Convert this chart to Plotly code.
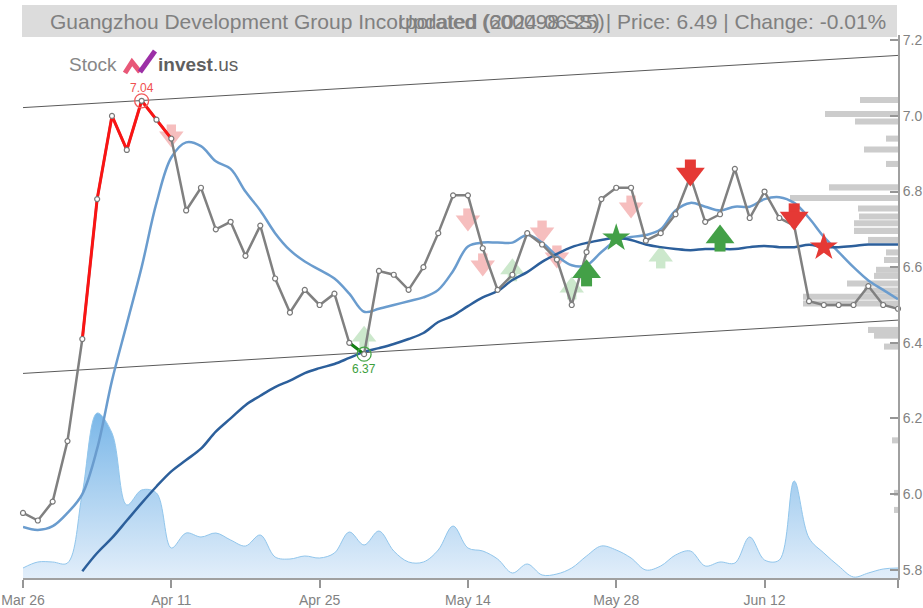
import plotly.graph_objects as go

# ---------------- data ----------------
tick_idx = [0, 10, 20, 30, 40, 50, 59]
tick_labels = ["Mar 26", "Apr 11", "Apr 25", "May 14", "May 28", "Jun 12", ""]

close = [5.95, 5.93, 5.98, 6.14, 6.41, 6.78, 7.00, 6.91, 7.04, 6.99,
         6.94, 6.75, 6.81, 6.70, 6.72, 6.63, 6.71, 6.57, 6.48, 6.54,
         6.50, 6.53, 6.40, 6.37, 6.59, 6.58, 6.54, 6.60, 6.69, 6.79,
         6.79, 6.65, 6.54, 6.58, 6.69, 6.66, 6.62, 6.50, 6.64, 6.78,
         6.81, 6.81, 6.67, 6.69, 6.74, 6.84, 6.72, 6.74, 6.86, 6.73,
         6.80, 6.73, 6.71, 6.51, 6.50, 6.50, 6.50, 6.55, 6.50, 6.49]

ma_fast = [5.913, 5.905, 5.915, 5.95, 6.00, 6.12, 6.30, 6.45, 6.60, 6.77,
           6.89, 6.93, 6.92, 6.88, 6.86, 6.80, 6.75, 6.69, 6.645, 6.615,
           6.593, 6.57, 6.53, 6.482, 6.49, 6.50, 6.51, 6.52, 6.54, 6.59,
           6.655, 6.665, 6.665, 6.665, 6.685, 6.665, 6.63, 6.605, 6.605, 6.64,
           6.67, 6.68, 6.685, 6.70, 6.75, 6.77, 6.76, 6.75, 6.76, 6.76,
           6.78, 6.785, 6.77, 6.73, 6.68, 6.64, 6.60, 6.565, 6.54, 6.515]

ma_slow = [None, None, None, None, 5.796, 5.844, 5.884, 5.93, 5.976, 6.02,
           6.06, 6.09, 6.12, 6.165, 6.20, 6.235, 6.26, 6.283, 6.30, 6.32,
           6.333, 6.344, 6.36, 6.376, 6.386, 6.397, 6.41, 6.426, 6.455, 6.472,
           6.497, 6.52, 6.537, 6.566, 6.587, 6.614, 6.635, 6.653, 6.664, 6.672,
           6.677, 6.672, 6.66, 6.653, 6.648, 6.645, 6.648, 6.648, 6.648, 6.653,
           6.656, 6.653, 6.653, 6.659, 6.653, 6.653, 6.656, 6.66, 6.66, 6.66]

volume = [10, 16, 16, 15, 85, 165, 145, 73, 88, 85,
          30, 45, 41, 45, 38, 32, 43, 21, 19, 22,
          20, 25, 46, 33, 47, 27, 16, 16, 28, 52,
          30, 27, 19, 5, 14, 3, 4, 10, 22, 32,
          28, 20, 8, 12, 23, 27, 12, 16, 15, 41,
          18, 18, 97, 40, 25, 12, 1, 5, 9, 10]

prof_price = [7.042, 7.005, 6.985, 6.940, 6.911, 6.873, 6.811, 6.783, 6.755, 6.734,
              6.716, 6.696, 6.672, 6.639, 6.619, 6.593, 6.577, 6.557, 6.538, 6.522,
              6.504, 6.434, 6.419, 6.390, 6.142, 6.003, 5.958]
prof_vol = [38, 73, 43, 12, 34, 12, 69, 108, 40, 39,
            44, 44, 30, 12, 14, 22, 24, 51, 34, 95,
            95, 30, 24, 14, 6, 4, 4]

channel_x = [0, 59]
channel_upper = [7.022, 7.160]
channel_lower = [6.319, 6.460]

rise_seg = [4, 10]      # red segment (index range)
fall_seg = [22, 23]     # green segment
hi_idx, lo_idx = 8, 23

faded_sell_x = [10, 30, 31, 35, 36, 41]
faded_sell_y = [6.947, 6.725, 6.606, 6.693, 6.627, 6.759]
faded_buy_x = [23, 33, 37, 43]
faded_buy_y = [6.415, 6.593, 6.545, 6.627]
buy_x = [38, 47]
buy_y = [6.585, 6.677]
sell_x = [45, 52]
sell_y = [6.849, 6.733]
star_buy_x, star_buy_y = [40], [6.677]
star_sell_x, star_sell_y = [54], [6.653]

# ---------------- layout constants ----------------
W, H = 923, 608
ML, MR, MT, MB = 23, 25, 35, 30
PW, PH = W - ML - MR, H - MT - MB
Y0, Y1 = 5.778, 7.214
PX = (Y1 - Y0) / PH            # price units per pixel
XPX = 59 / PW                   # index units per pixel
FONT = "Liberation Sans, Arial, sans-serif"

n = len(close)
xs = list(range(n))

fig = go.Figure()

# volume area (primary y, hidden)
fig.add_trace(go.Scatter(
    x=xs, y=volume, mode="lines", line=dict(color="rgb(145,198,236)", width=1, shape="spline"),
    fill="tozeroy",
    fillgradient=dict(type="vertical", start=0, stop=max(volume),
                      colorscale=[[0, "rgb(226,238,250)"], [1, "rgb(122,183,232)"]]),
    yaxis="y", hoverinfo="skip"))

# volume profile bars
fig.add_trace(go.Bar(
    y=prof_price, x=[-v * XPX for v in prof_vol], base=[59] * len(prof_vol),
    orientation="h", width=0.016, marker=dict(color="rgb(204,204,204)", line=dict(width=0)),
    yaxis="y2", hoverinfo="skip"))

# channel lines
for ch in (channel_upper, channel_lower):
    fig.add_trace(go.Scatter(x=channel_x, y=ch, mode="lines",
                             line=dict(color="rgb(90,90,90)", width=1), yaxis="y2", hoverinfo="skip"))


def arrows(xv, yv, direction, color, scale=1.0):
    head = 25 * scale
    shaft = 11 * scale
    half = 13.5 * scale
    if direction == "down":
        hy = [y - (half - head / 2) * PX for y in yv]
        sy = [y + (half - shaft / 2) * PX for y in yv]
        sym = "triangle-down"
    else:
        hy = [y + (half - head / 2) * PX for y in yv]
        sy = [y - (half - shaft / 2) * PX for y in yv]
        sym = "triangle-up"
    fig.add_trace(go.Scatter(x=xv, y=sy, mode="markers", yaxis="y2", hoverinfo="skip",
                             marker=dict(symbol="square", size=shaft, color=color, line=dict(width=0))))
    fig.add_trace(go.Scatter(x=xv, y=hy, mode="markers", yaxis="y2", hoverinfo="skip",
                             marker=dict(symbol=sym, size=head, color=color, line=dict(width=0))))


arrows(faded_sell_x, faded_sell_y, "down", "rgb(246,190,190)", 0.85)
arrows(faded_buy_x, faded_buy_y, "up", "rgb(204,232,204)", 0.85)

# moving averages
fig.add_trace(go.Scatter(x=xs, y=ma_fast, mode="lines", yaxis="y2", hoverinfo="skip",
                         line=dict(color="rgb(106,156,206)", width=2.5, shape="spline")))
fig.add_trace(go.Scatter(x=xs, y=ma_slow, mode="lines", yaxis="y2", hoverinfo="skip",
                         line=dict(color="rgb(44,95,155)", width=2.5, shape="spline")))

# price line
fig.add_trace(go.Scatter(x=xs, y=close, mode="lines", yaxis="y2", hoverinfo="skip", cliponaxis=False,
                         line=dict(color="rgb(128,128,128)", width=2.5)))
a, b = rise_seg
fig.add_trace(go.Scatter(x=xs[a:b + 1], y=close[a:b + 1], mode="lines", yaxis="y2", hoverinfo="skip",
                         line=dict(color="rgb(250,20,20)", width=3)))
a, b = fall_seg
fig.add_trace(go.Scatter(x=xs[a:b + 1], y=close[a:b + 1], mode="lines", yaxis="y2", hoverinfo="skip",
                         line=dict(color="rgb(20,130,20)", width=3)))
fig.add_trace(go.Scatter(x=xs, y=close, mode="markers", yaxis="y2", hoverinfo="skip", cliponaxis=False,
                         marker=dict(symbol="circle", size=5, color="white",
                                     line=dict(color="rgb(120,120,120)", width=1.2))))

# extreme markers
fig.add_trace(go.Scatter(x=[hi_idx], y=[close[hi_idx]], mode="markers", yaxis="y2", hoverinfo="skip",
                         marker=dict(symbol="circle-open", size=14, color="rgb(240,90,90)",
                                     line=dict(width=1.3))))
fig.add_trace(go.Scatter(x=[lo_idx], y=[close[lo_idx]], mode="markers", yaxis="y2", hoverinfo="skip",
                         marker=dict(symbol="circle-open", size=14, color="rgb(70,165,70)",
                                     line=dict(width=1.3))))

# strong signals
arrows(sell_x, sell_y, "down", "rgb(229,57,53)")
arrows(buy_x, buy_y, "up", "rgb(67,160,71)")
fig.add_trace(go.Scatter(x=star_buy_x, y=star_buy_y, mode="markers", yaxis="y2", hoverinfo="skip",
                         marker=dict(symbol="star", size=21, color="rgb(67,160,71)", line=dict(width=0))))
fig.add_trace(go.Scatter(x=star_sell_x, y=star_sell_y, mode="markers", yaxis="y2", hoverinfo="skip",
                         marker=dict(symbol="star", size=21, color="rgb(229,57,53)", line=dict(width=0))))


def pp(x, y):
    return (x - ML) / PW, (H - MB - y) / PH


annotations = [
    dict(x=hi_idx, y=close[hi_idx], xref="x", yref="y2", text=f"{close[hi_idx]:.2f}", showarrow=False,
         yshift=13, font=dict(family=FONT, size=12, color="rgb(240,80,80)")),
    dict(x=lo_idx, y=close[lo_idx], xref="x", yref="y2", text=f"{close[lo_idx]:.2f}", showarrow=False,
         yshift=-15, font=dict(family=FONT, size=12, color="rgb(60,160,60)")),
]
tx, ty = pp(468, 21)
annotations.append(dict(x=tx, y=ty, xref="paper", yref="paper", showarrow=False, yanchor="middle",
                        text="Guangzhou Development Group Incorporated (600098.SS) | Price: 6.49 | Change: -0.01%",
                        font=dict(family=FONT, size=21, color="rgb(128,128,128)")))
ux, uy = pp(501, 21)
annotations.append(dict(x=ux, y=uy, xref="paper", yref="paper", showarrow=False, yanchor="middle",
                        text="Updated (2024-06-25)",
                        font=dict(family=FONT, size=21, color="rgb(128,128,128)")))
lx, ly = pp(67, 65)
annotations.append(dict(x=lx, y=ly, xref="paper", yref="paper", showarrow=False, xanchor="left",
                        yanchor="middle",
                        text="Stock", font=dict(family=FONT, size=19, color="rgb(135,135,135)")))
lx2, ly2 = pp(156, 65)
annotations.append(dict(x=lx2, y=ly2, xref="paper", yref="paper", showarrow=False, xanchor="left",
                        yanchor="middle",
                        text="<b>invest</b>.us", font=dict(family=FONT, size=19, color="rgb(95,95,95)")))

bx0, by0 = pp(22, 5)
bx1, by1 = pp(897, 37)


def path(pts):
    s = ""
    for k, (x, y) in enumerate(pts):
        px_, py_ = pp(x, y)
        s += ("M" if k == 0 else "L") + f"{px_:.5f},{py_:.5f} "
    return s.strip()


shapes = [
    dict(type="rect", xref="paper", yref="paper", x0=bx0, x1=bx1, y0=by0, y1=by1,
         fillcolor="rgb(220,220,220)", line=dict(width=0), layer="below"),
    dict(type="path", xref="paper", yref="paper", path=path([(125, 73), (132, 62), (140, 72)]),
         line=dict(color="rgb(232,88,120)", width=5)),
    dict(type="path", xref="paper", yref="paper", path=path([(140, 72), (155, 51)]),
         line=dict(color="rgb(156,47,166)", width=5)),
]

fig.update_layout(
    width=W, height=H, margin=dict(l=ML, r=MR, t=MT, b=MB, autoexpand=False),
    paper_bgcolor="white", plot_bgcolor="white", showlegend=False,
    barmode="overlay",
    xaxis=dict(range=[0, 59], tickmode="array", tickvals=tick_idx, ticktext=tick_labels, automargin=False,
               showgrid=False, zeroline=False, showline=True, linecolor="rgb(160,160,160)", linewidth=2,
               ticks="outside", ticklen=8, tickcolor="rgb(150,150,150)", tickwidth=1.5,
               tickfont=dict(family=FONT, size=14, color="rgb(130,130,130)")),
    yaxis=dict(range=[0, PH], visible=False, fixedrange=True, automargin=False),
    yaxis2=dict(range=[Y0, Y1], overlaying="y", side="right", tickmode="array", automargin=False,
                tickvals=[5.8, 6.0, 6.2, 6.4, 6.6, 6.8, 7.0, 7.2],
                ticktext=["5.8", "6.0", "6.2", "6.4", "6.6", "6.8", "7.0", "7.2"],
                showgrid=False, zeroline=False, showline=True, linecolor="rgb(160,160,160)", linewidth=2,
                ticks="inside", ticklen=8, tickcolor="rgb(150,150,150)", tickwidth=1.5,
                tickfont=dict(family=FONT, size=14, color="rgb(130,130,130)")),
    annotations=annotations, shapes=shapes,
)

fig.write_html("out.html", config={"displayModeBar": False},
               post_script="document.body.style.margin='0';document.body.style.overflow='hidden';")
